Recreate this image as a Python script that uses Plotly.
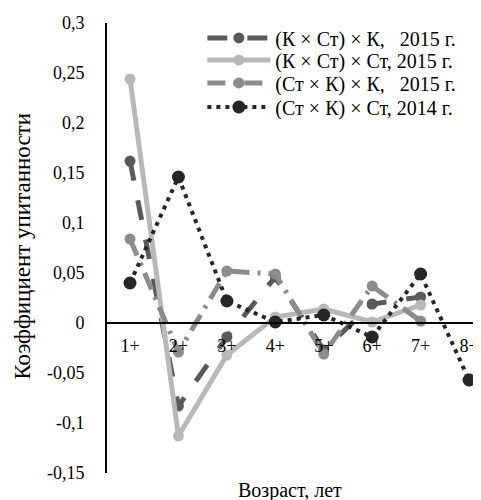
import plotly.graph_objects as go

ages = ["1+", "2+", "3+", "4+", "5+", "6+", "7+", "8+"]
xpos = [1, 2, 3, 4, 5, 6, 7, 8]

s1_name = "(К × Ст) × К,\u00a0\u00a0 2015 г."
s2_name = "(К × Ст) × Ст, 2015 г."
s3_name = "(Ст × К) × К,\u00a0\u00a0 2015 г."
s4_name = "(Ст × К) × Ст, 2014 г."

s1 = [0.162, -0.083, -0.014, 0.046, -0.027, 0.019, 0.026, None]
s2 = [0.244, -0.113, -0.032, 0.006, 0.014, 0.001, 0.018, None]
s3 = [0.084, -0.029, 0.052, 0.049, -0.031, 0.037, 0.002, None]
s4 = [0.040, 0.146, 0.022, 0.001, 0.008, -0.014, 0.049, -0.057]

ytick_vals = [0.3, 0.25, 0.2, 0.15, 0.1, 0.05, 0, -0.05, -0.1, -0.15]
ytick_text = ["0,3", "0,25", "0,2", "0,15", "0,1", "0,05", "0", "-0,05", "-0,1", "-0,15"]

FONT = "Liberation Serif, Times New Roman, serif"

fig = go.Figure()
fig.add_trace(go.Scatter(x=xpos, y=s1, name=s1_name, mode="lines+markers", legend="legend",
                         line=dict(color="#5a5a5a", width=5, dash="20px,20px"),
                         marker=dict(color="#5a5a5a", size=11)))
fig.add_trace(go.Scatter(x=xpos, y=s2, name=s2_name, mode="lines+markers", legend="legend2",
                         line=dict(color="#b8b8b8", width=5),
                         marker=dict(color="#b8b8b8", size=11)))
fig.add_trace(go.Scatter(x=xpos, y=s3, name=s3_name, mode="lines+markers", legend="legend3",
                         line=dict(color="#8c8c8c", width=5, dash="18px,8px,3px,8px"),
                         marker=dict(color="#8c8c8c", size=11)))
fig.add_trace(go.Scatter(x=xpos, y=s4, name=s4_name, mode="lines+markers", legend="legend4",
                         line=dict(color="#262626", width=4, dash="4px,5px"),
                         marker=dict(color="#262626", size=13)))

def leg(yc):
    return dict(x=0.255, y=yc, xanchor="left", yanchor="middle",
                bgcolor="rgba(0,0,0,0)", font=dict(family=FONT, size=20),
                itemwidth=63)

fig.update_layout(
    width=481, height=492,
    margin=dict(l=99, r=8, t=15, b=27),
    paper_bgcolor="white", plot_bgcolor="white",
    font=dict(family=FONT, size=18, color="black"),
    showlegend=True,
    legend=leg(0.9667), legend2=leg(0.9178), legend3=leg(0.8667), legend4=leg(0.8133),
    xaxis=dict(range=[0.525, 8.247], tickvals=xpos, ticktext=ages, automargin=False,
               showgrid=False, zeroline=False, showline=True, linecolor="black",
               linewidth=2, anchor="free", position=1/3, ticks="",
               ticklabelstandoff=6, tickfont=dict(family=FONT, size=18)),
    yaxis=dict(range=[-0.15, 0.3], tickvals=ytick_vals, ticktext=ytick_text, automargin=False,
               showgrid=False, zeroline=False, showline=True, linecolor="black",
               linewidth=2, ticks="", ticklabelstandoff=17,
               tickfont=dict(family=FONT, size=18)),
)
fig.add_annotation(text="Коэффициент упитанности", xref="paper", yref="paper",
                   x=-0.225, y=0.505, xanchor="center", yanchor="middle", textangle=-90,
                   showarrow=False, font=dict(family=FONT, size=23))
fig.add_annotation(text="Возраст, лет", xref="paper", yref="paper",
                   x=0.49, y=-0.0378, xanchor="center", yanchor="middle",
                   showarrow=False, font=dict(family=FONT, size=20))

fig.write_html("out.html")
